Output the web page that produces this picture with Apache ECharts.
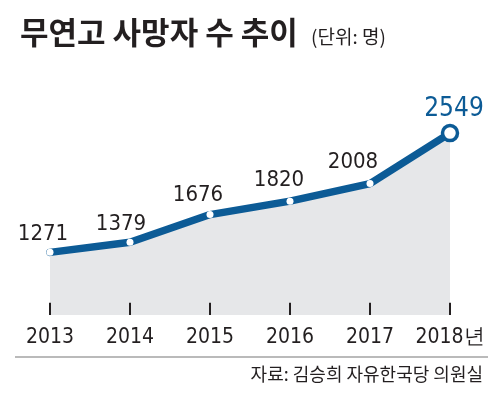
<!DOCTYPE html>
<html><head><meta charset="utf-8">
<script src="https://cdn.jsdelivr.net/npm/echarts@6/dist/echarts.min.js"></script>
<style>html,body{margin:0;padding:0;background:#fff}#c{width:500px;height:394px}</style>
</head><body><div id="c"></div>
<script>
const years = ['2013', '2014', '2015', '2016', '2017', '2018년'];
const deaths = [1271, 1379, 1676, 1820, 2008, 2549];
const labelOffsets = [[-7, -18], [-9, -18], [-12, -19], [-11, -21], [-17, -21], [4, -24]];

const BLUE = '#0c5b96';
const NUM_FONT = '"Liberation Sans Narrow", "DejaVu Sans Condensed", sans-serif';
const Y_MIN = 600, Y_MAX = 3000;
const TICK_SPAN = 130; // tick length in value units (~12px)
const last = deaths.length - 1;

const chart = echarts.init(document.getElementById('c'), null, {renderer: 'canvas'});
chart.setOption({
  animation: false,
  backgroundColor: '#fff',
  title: {
    text: '무연고 사망자 수 추이',
    left: 15, top: 12,
    textStyle: {fontFamily: '"Noto Sans CJK KR"', fontSize: 31, fontWeight: 'bold', color: '#231f20'}
  },
  grid: {left: 50, right: 50, top: 91, bottom: 79},
  xAxis: {
    type: 'category',
    data: years,
    boundaryGap: false,
    axisLine: {show: false},
    axisTick: {show: false},
    axisLabel: {margin: 12, interval: 0, hideOverlap: false, fontFamily: NUM_FONT, fontSize: 21, color: '#231f20'}
  },
  yAxis: {type: 'value', min: Y_MIN, max: Y_MAX, show: false, splitLine: {show: false}},
  series: [{
    type: 'line',
    data: deaths.map((v, i) => ({
      value: v,
      symbolSize: i === last ? 15 : 7,
      itemStyle: i === last
        ? {color: '#fff', borderColor: BLUE, borderWidth: 3.5}
        : {color: '#fff', borderWidth: 0},
      label: {
        show: true, position: 'inside', offset: labelOffsets[i],
        fontFamily: NUM_FONT,
        fontSize: i === last ? 26 : 22,
        color: i === last ? BLUE : '#231f20'
      }
    })),
    symbol: 'circle',
    lineStyle: {color: BLUE, width: 7.5, cap: 'round', join: 'round'},
    areaStyle: {color: '#e6e7e9', opacity: 1},
    z: 3
  }, {
    type: 'bar',
    silent: true,
    z: 10,
    barWidth: 2,
    clip: true,
    itemStyle: {color: '#231f20'},
    data: years.map(() => Y_MIN + TICK_SPAN)
  }],
  graphic: [
    {type: 'text', left: 311, top: 27,
      style: {text: '(단위: 명)', fontFamily: '"Noto Sans CJK KR"', fontSize: 19, fill: '#231f20'}},
    {type: 'line', shape: {x1: 15, y1: 357, x2: 488, y2: 357},
      style: {stroke: '#777', lineWidth: 1.2}},
    {type: 'text', right: 17, top: 365,
      style: {text: '자료: 김승희 자유한국당 의원실', fontFamily: '"Noto Sans CJK KR"', fontSize: 18, fill: '#231f20'}}
  ]
});
</script></body></html>
